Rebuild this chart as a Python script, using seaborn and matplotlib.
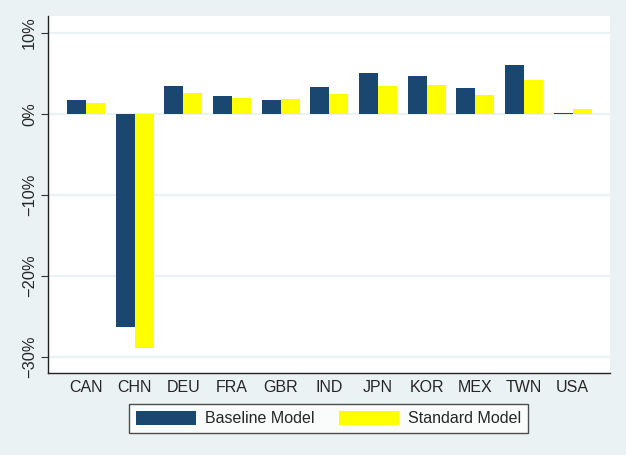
import matplotlib
matplotlib.use("Agg")
import matplotlib.pyplot as plt
import seaborn as sns
import pandas as pd
from matplotlib.patches import Patch

countries = ["CAN", "CHN", "DEU", "FRA", "GBR", "IND", "JPN", "KOR", "MEX", "TWN", "USA"]
baseline = [1.7, -26.3, 3.5, 2.2, 1.7, 3.3, 5.1, 4.7, 3.2, 6.1, 0.1]
standard = [1.3, -28.9, 2.6, 2.0, 1.85, 2.5, 3.5, 3.6, 2.35, 4.2, 0.6]
series = ["Baseline Model", "Standard Model"]
yticks = [10, 0, -10, -20, -30]
ytick_labels = ["10%", "0%", "\u221210%", "\u221220%", "\u221230%"]

colors = {"Baseline Model": "#1A476F", "Standard Model": "#FFFF00"}
bg = "#EAF2F3"

df = pd.DataFrame({
    "country": countries * 2,
    "value": baseline + standard,
    "model": [series[0]] * len(countries) + [series[1]] * len(countries),
})

sns.set_style("white")
plt.rcParams["font.family"] = ["Liberation Sans", "DejaVu Sans"]

fig = plt.figure(figsize=(6.26, 4.55), dpi=100, facecolor=bg)
ax = fig.add_axes([48 / 626, 1 - 373 / 455, (610 - 48) / 626, (373 - 16) / 455])
ax.set_facecolor("white")

sns.barplot(data=df, x="country", y="value", hue="model", order=countries,
            hue_order=series, palette=colors, width=0.78, saturation=1,
            edgecolor="none", linewidth=0, ax=ax, legend=False, zorder=3)

ax.set_xlim(-0.78, 10.77)
ax.set_ylim(-32.0, 12.1)
ax.set_yticks(yticks)
ax.set_yticklabels(ytick_labels, rotation=90, va="center", fontsize=11.8)
ax.tick_params(axis="y", length=5, width=0.8, color="#333333", direction="out", pad=3, left=True)
ax.tick_params(axis="x", length=0, labelsize=11.5, pad=5)
ax.set_xlabel("")
ax.set_ylabel("")
ax.yaxis.grid(True, color=bg, linewidth=1.6, zorder=0)
ax.set_axisbelow(True)
for s in ["top", "right"]:
    ax.spines[s].set_visible(False)
for s in ["left", "bottom"]:
    ax.spines[s].set_color("#222222")
    ax.spines[s].set_linewidth(1.0)

handles = [Patch(facecolor=colors[s], edgecolor="none", label=s) for s in series]
leg = fig.legend(handles=handles, ncol=2, loc="center",
                 bbox_to_anchor=((129 + 528) / 2 / 626, 1 - 418.5 / 455),
                 fontsize=11.5, frameon=True, fancybox=False, edgecolor="#222222",
                 handlelength=3.75, handleheight=1.0, handletextpad=0.56,
                 columnspacing=1.56, borderpad=0.45, borderaxespad=0)
leg.get_frame().set_linewidth(1.0)
leg.get_frame().set_facecolor("white")

fig.savefig("out.png", dpi=100, facecolor=bg)
